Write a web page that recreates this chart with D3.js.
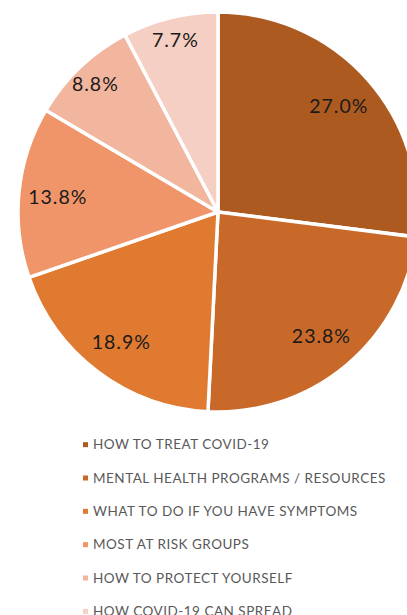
<!DOCTYPE html>
<html><head><meta charset="utf-8">
<script src="https://cdn.jsdelivr.net/npm/d3@7"></script>
<style>body{margin:0;background:#fff;}svg{display:block;}</style>
</head><body>
<svg id="chart" width="407" height="615"></svg>
<script>
const categories = ["HOW TO TREAT COVID-19","MENTAL HEALTH PROGRAMS / RESOURCES","WHAT TO DO IF YOU HAVE SYMPTOMS","MOST AT RISK GROUPS","HOW TO PROTECT YOURSELF","HOW COVID-19 CAN SPREAD"];
const values = [27.0, 23.8, 18.9, 13.8, 8.8, 7.7];
const colors = ["#AD5A21","#C8692A","#E07A30","#F0956A","#F2B59E","#F5CFC3"];

const svg = d3.select("#chart");
const cx = 218, cy = 212, R = 200;
const g = svg.append("g").attr("transform", `translate(${cx},${cy})`);
const pie = d3.pie().value(d => d).sort(null);
const arcs = pie(values);
const arc = d3.arc().innerRadius(0).outerRadius(R);
g.selectAll("path").data(arcs).join("path")
  .attr("d", arc).attr("fill", (d,i) => colors[i])
  .attr("stroke", "#fff").attr("stroke-width", 3.5).attr("stroke-linejoin","round");

const fmt = d3.format(".1f");
g.selectAll("text").data(arcs).join("text")
  .attr("transform", d => {
    const r = d.data < 10 ? 178 : 161;
    const la = d3.arc().innerRadius(r).outerRadius(r);
    return `translate(${la.centroid(d)})`;
  })
  .attr("text-anchor","middle").attr("dy","0.4em")
  .attr("font-family","Lato, 'Noto Sans', sans-serif").attr("font-size",19.5)
  .attr("letter-spacing", 1)
  .attr("fill","#1a1a1a")
  .text(d => fmt(d.data) + "%");

const y = d3.scaleBand().domain(categories).range([428, 628]);
const leg = svg.append("g");
const rows = leg.selectAll("g").data(categories).join("g")
  .attr("transform", d => `translate(0,${y(d) + y.bandwidth()/2})`);
rows.append("rect").attr("x", 83).attr("y", -2.5).attr("width", 5).attr("height", 5)
  .attr("fill", (d,i) => colors[i]);
rows.append("text").attr("x", 93).attr("dy","0.35em")
  .attr("font-family","Lato, 'Noto Sans', sans-serif").attr("font-size",13.5)
  .attr("letter-spacing", 0.5)
  .attr("fill","#595959").text(d => d);
</script>
</body></html>
